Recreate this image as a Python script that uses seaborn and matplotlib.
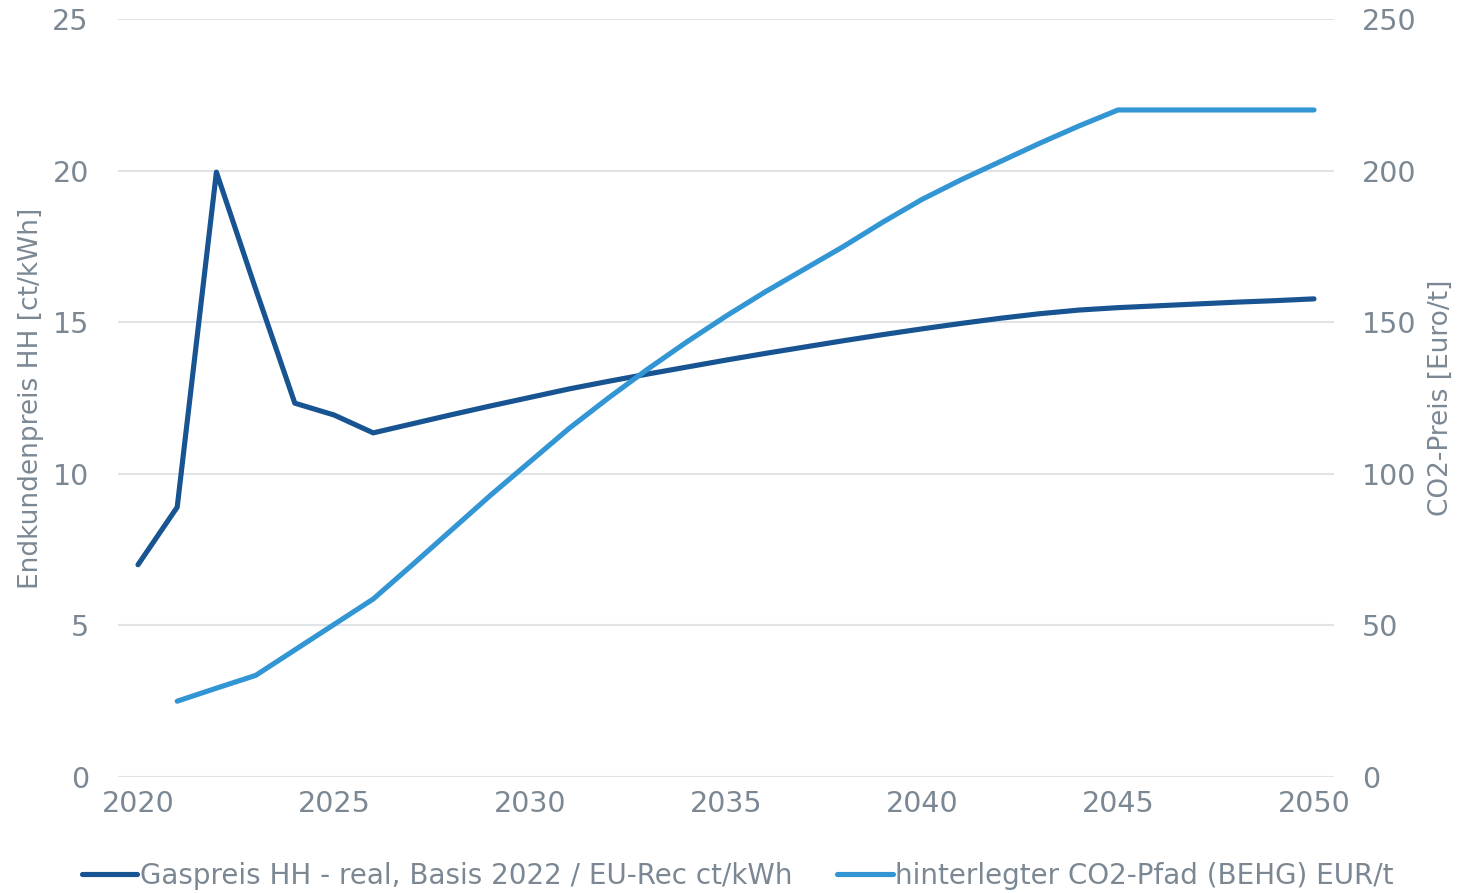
import matplotlib
matplotlib.use("Agg")
import matplotlib.pyplot as plt
from matplotlib import font_manager
import pandas as pd
import seaborn as sns

# data
years = list(range(2020, 2051))
gas_price = [7.0, 8.9, 19.95, 16.1, 12.33, 11.94, 11.35, 11.65, 11.95, 12.24,
             12.52, 12.80, 13.05, 13.29, 13.52, 13.75, 13.97, 14.18, 14.39, 14.59,
             14.78, 14.96, 15.13, 15.28, 15.40, 15.48, 15.54, 15.60, 15.66, 15.71, 15.77]
co2_years = list(range(2021, 2051))
co2_price = [25.0, 29.3, 33.5, 41.9, 50.3, 58.7, 70.0, 81.5, 93.0, 104.0,
             115.0, 125.0, 134.5, 143.5, 152.0, 160.0, 167.5, 175.0, 183.0, 190.5,
             197.0, 203.0, 209.0, 214.7, 220.0, 220.0, 220.0, 220.0, 220.0, 220.0]

gas_label = "Gaspreis HH - real, Basis 2022 / EU-Rec ct/kWh"
co2_label = "hinterlegter CO2-Pfad (BEHG) EUR/t"
xticks = [2020, 2025, 2030, 2035, 2040, 2045, 2050]

gas = pd.DataFrame({"year": years, "value": gas_price})
co2 = pd.DataFrame({"year": co2_years, "value": co2_price})

dark = "#175491"
light = "#3396d4"
txt = "#7b8893"
grid = "#e1e4e6"

sns.set_theme(style="white")
names = {f.name for f in font_manager.fontManager.ttflist}
narrow = "Liberation Sans Narrow" if "Liberation Sans Narrow" in names else "DejaVu Sans"
plt.rcParams["font.family"] = ["DejaVu Sans"]

fig = plt.figure(figsize=(14.61, 8.93), dpi=100)
ax = fig.add_axes([118 / 1461, 1 - 777 / 893, (1334 - 118) / 1461, (777 - 19) / 893])
ax2 = ax.twinx()

sns.lineplot(data=gas, x="year", y="value", ax=ax, color=dark, linewidth=3.7,
             label=gas_label, legend=False, solid_capstyle="round", solid_joinstyle="round")
sns.lineplot(data=co2, x="year", y="value", ax=ax2, color=light, linewidth=3.7,
             label=co2_label, legend=False, solid_capstyle="round", solid_joinstyle="round")

ax.set_xlim(2020 - 20 / 39.2, 2050 + 20 / 39.2)
ax.set_ylim(0, 25)
ax2.set_ylim(0, 250)
ax.set_xticks(xticks)
ax.set_yticks([0, 5, 10, 15, 20, 25])
ax2.set_yticks([0, 50, 100, 150, 200, 250])

ax.yaxis.grid(True, color=grid, linewidth=1.5)
ax.xaxis.grid(False)
ax2.grid(False)
ax.set_axisbelow(True)
for a in (ax, ax2):
    for s in a.spines.values():
        s.set_visible(False)
    a.tick_params(length=0, labelsize=20.5, labelcolor=txt)
ax.tick_params(axis="y", pad=21)
ax.tick_params(axis="x", pad=9)
ax2.tick_params(axis="y", pad=20)

ax.set_xlabel("")
ax.set_ylabel("Endkundenpreis HH [ct/kWh]", fontsize=19, color=txt, family=narrow, labelpad=6)
ax2.set_ylabel("CO2-Preis [Euro/t]", fontsize=19, color=txt, family=narrow, labelpad=8)

h1, l1 = ax.get_legend_handles_labels()
h2, l2 = ax2.get_legend_handles_labels()
fig.legend(h1 + h2, l1 + l2, loc="center", bbox_to_anchor=(0.505, 1 - 876 / 893), ncol=2,
           frameon=False, handlelength=2.0, handletextpad=0.1, columnspacing=1.6,
           prop={"family": narrow, "size": 20}, labelcolor=txt)

fig.savefig("out.png", dpi=100)
